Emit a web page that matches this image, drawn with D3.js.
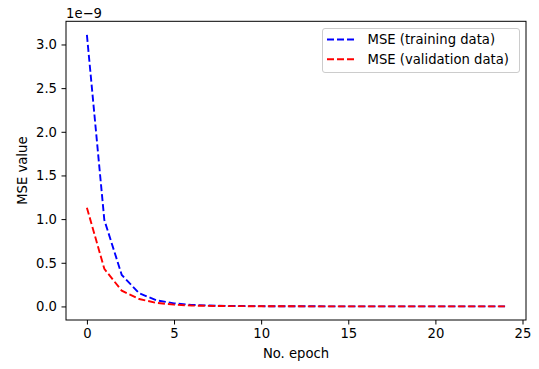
<!DOCTYPE html>
<html>
<head>
<meta charset="utf-8">
<script src="https://cdn.jsdelivr.net/npm/d3@7"></script>
<style>
  body { margin: 0; background: #fff; }
  svg { display: block; font-family: 'DejaVu Sans', sans-serif; }
</style>
</head>
<body>
<div id="LINE_CHART"></div>
<script>
// values, in units of 1e-9
const epochs = d3.range(0, 25);
const trainMse = [3.11, 0.99, 0.36, 0.15, 0.07, 0.035, 0.018, 0.01, 0.006, 0.004, 0.003, 0.002, 0.0015,
  0.0012, 0.001, 0.0009, 0.0008, 0.0007, 0.0006, 0.0006, 0.0005, 0.0005, 0.0004, 0.0004, 0.0004];
const validMse = [1.13, 0.43, 0.18, 0.085, 0.04, 0.02, 0.01, 0.006, 0.004, 0.003, 0.002, 0.0015, 0.0012,
  0.001, 0.0009, 0.0008, 0.0007, 0.0006, 0.0006, 0.0005, 0.0005, 0.0004, 0.0004, 0.0004, 0.0003];
const xTicks = [0, 5, 10, 15, 20, 25];
const yTicks = [0, 0.5, 1.0, 1.5, 2.0, 2.5, 3.0];
const seriesNames = ['MSE (training data)', 'MSE (validation data)'];
const seriesColors = ['#0000ff', '#ff0000'];
const scaleExp = 1e-9;

const width = 539, height = 369;
const margin = {top: 21.3, right: 13, bottom: 49, left: 66};
const fontSize = 13.2;
const tick = 4.5;

const svg = d3.select('#LINE_CHART')
  .append('svg')
  .attr('width', width)
  .attr('height', height);

const x = d3.scaleLinear()
  .domain([-1.2, 25.2])
  .range([margin.left, width - margin.right]);

const yMax = d3.max(trainMse) * scaleExp;
const y = d3.scaleLinear()
  .domain([-0.05 * yMax, 1.05 * yMax])
  .range([height - margin.bottom, margin.top]);

const xAxis = g => g
  .attr('transform', `translate(0,${height - margin.bottom})`)
  .call(d3.axisBottom(x).tickValues(xTicks).tickSize(tick).tickPadding(tick).tickSizeOuter(0));

const yAxis = g => g
  .attr('transform', `translate(${margin.left},0)`)
  .call(d3.axisLeft(y).tickValues(yTicks.map(v => v * scaleExp))
    .tickFormat(d => (d / scaleExp).toFixed(1)).tickSize(tick).tickPadding(tick).tickSizeOuter(0));

const styleAxis = g => {
  g.attr('font-size', fontSize).attr('font-family', 'DejaVu Sans');
  g.select('.domain').remove();
  g.selectAll('.tick line').attr('stroke', '#000').attr('stroke-width', 1);
  g.selectAll('.tick text').attr('fill', '#000');
};

svg.append('g').call(xAxis).call(styleAxis);
svg.append('g').call(yAxis).call(styleAxis);

const line = d3.line()
  .x((d, i) => x(epochs[i]))
  .y(d => y(d * scaleExp));

[trainMse, validMse].forEach((s, i) => {
  svg.append('path')
    .datum(s)
    .attr('fill', 'none')
    .attr('stroke', seriesColors[i])
    .attr('stroke-width', 1.9)
    .attr('stroke-dasharray', '7,3')
    .attr('d', line);
});

// frame
svg.append('rect')
  .attr('x', margin.left)
  .attr('y', margin.top)
  .attr('width', width - margin.left - margin.right)
  .attr('height', height - margin.top - margin.bottom)
  .attr('fill', 'none')
  .attr('stroke', '#000')
  .attr('stroke-width', 1);

// offset text
svg.append('text')
  .attr('x', margin.left)
  .attr('y', 17.5)
  .attr('font-size', fontSize)
  .text('1e\u22129');

svg.append('text')
  .attr('x', (margin.left + width - margin.right) / 2)
  .attr('y', 358)
  .attr('text-anchor', 'middle')
  .attr('font-size', fontSize)
  .text('No. epoch');

svg.append('text')
  .attr('transform', `translate(26.5,${(margin.top + height - margin.bottom) / 2}) rotate(-90)`)
  .attr('text-anchor', 'middle')
  .attr('font-size', fontSize)
  .text('MSE value');

// legend
const legend = svg.append('g').attr('transform', 'translate(322.5,28.5)');
legend.append('rect')
  .attr('width', 197)
  .attr('height', 44)
  .attr('rx', 2.5)
  .attr('fill', '#fff')
  .attr('fill-opacity', 0.8)
  .attr('stroke', '#cccccc')
  .attr('stroke-width', 1);

seriesNames.forEach((name, i) => {
  const yy = 11 + i * 19.7;
  legend.append('line')
    .attr('x1', 4.5).attr('x2', 32.5)
    .attr('y1', yy).attr('y2', yy)
    .attr('stroke', seriesColors[i])
    .attr('stroke-width', 1.9)
    .attr('stroke-dasharray', '7,3');
  legend.append('text')
    .attr('x', 45)
    .attr('y', yy + 4.7)
    .attr('font-size', fontSize)
    .text(name);
});
</script>
</body>
</html>
